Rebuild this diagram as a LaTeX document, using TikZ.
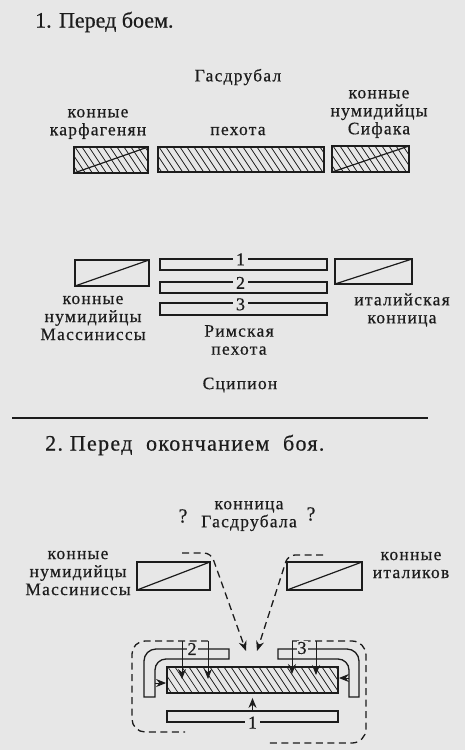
\documentclass[tikz,border=0pt]{standalone}
\usepackage{fontspec}
\setmainfont{Liberation Serif}
\newfontfamily\lblfont{Liberation Serif}[FakeBold=0.5,LetterSpace=7]
\newfontfamily\ttlfont{Liberation Serif}[FakeBold=0.5]
\newfontfamily\ttlwfont{Liberation Serif}[FakeBold=0.5,LetterSpace=6]
\usetikzlibrary{arrows.meta,calc}
\definecolor{bg}{RGB}{231,231,231}
\definecolor{ink}{RGB}{28,28,28}
\newcommand{\hatchlines}{\foreach \k in {0,...,30}{\draw[ink,line width=0.7pt] ($(path picture bounding box.north west)+(\k*7pt-20pt,0pt)$) -- ++(18pt,-27pt);}}
\newcommand{\diagline}{\draw[ink,line width=1.2pt] (path picture bounding box.south west) -- (path picture bounding box.north east);}
\begin{document}
\begin{tikzpicture}[x=1pt,y=-1pt,
  lbl/.style={font=\lblfont\fontsize{17.5}{18}\selectfont, align=center, inner sep=0pt, text=ink},
  ttl/.style={font=\ttlfont\fontsize{22}{24}\selectfont, anchor=west, inner sep=0pt, text=ink},
  num/.style={font=\ttlfont\fontsize{18}{18}\selectfont, inner xsep=3pt, inner ysep=0.5pt, fill=bg, text=ink},
  unit/.style={draw=ink, line width=1.3pt, inner sep=0pt, rectangle},
  infbox/.style={unit, line width=1.8pt, path picture={\hatchlines}},
  cavhatch/.style={unit, line width=1.8pt, path picture={\hatchlines\diagline}},
  cavbox/.style={unit, path picture={\diagline}},
  barbox/.style={unit},
  dsh/.style={draw=ink, line width=1.3pt, dash pattern=on 7pt off 4.5pt},
  arr/.style={draw=ink, line width=1pt, -{Stealth[length=10pt,width=8pt]}},
  lshape/.style={draw=ink, line width=1.3pt}
]
\fill[bg] (0,0) rectangle (465,750);
\useasboundingbox (0,0) rectangle (465,750);

% ---------- Section 1 ----------
\node[ttl] (t1) at (35,22) {1. Перед боем.};
\node[lbl] (gas) at (238,77) {Гасдрубал};
\node[lbl] (lcar) at (98,124) {конные\\карфагенян};
\node[lbl] (lped) at (238,131) {пехота};
\node[lbl] (lsif) at (379,114) {конные\\нумидийцы\\Сифака};

\node[cavhatch, minimum width=74pt, minimum height=26pt] (cC) at (111,160) {};
\node[infbox, minimum width=166pt, minimum height=25pt] (cI) at (241,159.5) {};
\node[cavhatch, minimum width=77pt, minimum height=26pt] (cS) at (370.5,159) {};

\node[cavbox, minimum width=74pt, minimum height=26pt] (rM) at (112,273) {};
\node[cavbox, minimum width=77pt, minimum height=25pt] (rI) at (373.5,271.5) {};
\node[barbox, minimum width=167pt, minimum height=11pt] (r1) at (243.5,264.5) {};
\node[barbox, minimum width=167pt, minimum height=11pt] (r2) at (243.5,287.5) {};
\node[barbox, minimum width=167pt, minimum height=12pt] (r3) at (243.5,309) {};
\node[num] (r1n) at ($(r1.north)+(-3,1)$) {1};
\node[num] (r2n) at ($(r2.north)+(-3,1.5)$) {2};
\node[num] (r3n) at ($(r3.north)+(-3,2)$) {3};

\node[lbl] (lmas) at (93,318) {конные\\нумидийцы\\Массиниссы};
\node[lbl] (lita) at (402,310) {италийская\\конница};
\node[lbl] (lrim) at (239,340) {Римская\\пехота};
\node[lbl] (lsci) at (240,385) {Сципион};

\coordinate (ruleL) at (12,418);
\coordinate (ruleR) at (428,418);
\draw[ink, line width=1.3pt] (ruleL) -- (ruleR);

% ---------- Section 2 ----------
\node[ttl, font=\ttlwfont\fontsize{22}{24}\selectfont] (t2) at (45,445) {2.\ Перед\ \ окончанием\ \ боя.};
\node[lbl] (lgas) at (249,516) {конница\\Гасдрубала};
\node[lbl, font=\ttlfont\fontsize{20}{20}\selectfont] (q1) at (183,516) {?};
\node[lbl, font=\ttlfont\fontsize{20}{20}\selectfont] (q2) at (311,514) {?};
\node[lbl] (lmas2) at (78,573) {конные\\нумидийцы\\Массиниссы};
\node[lbl] (lita2) at (411,565) {конные\\италиков};

\node[cavbox, minimum width=73pt, minimum height=28pt] (nM) at (173.5,576) {};
\node[cavbox, minimum width=75pt, minimum height=28pt] (nI) at (324.5,576) {};

\node[infbox, minimum width=171pt, minimum height=26pt] (hb) at (252.5,680) {};
\node[barbox, minimum width=171pt, minimum height=11pt] (b1) at (252.5,716.5) {};
\node[num] (b1n) at (b1.south) {1};
\draw[arr, shorten >=4pt] (b1.north) -- (hb.south);

% L-shaped lines 2 and 3
\draw[lshape] (144,697) -- (144,661) to[out=90,in=180] (156,649) -- (229,649) -- (229,659) -- (166,659) to[out=180,in=90] (155,670) -- (155,697) -- cycle;
\draw[lshape] (359,697) -- (359,661) to[out=90,in=0] (347,649) -- (278,649) -- (278,659) -- (338,659) to[out=0,in=90] (349,670) -- (349,697) -- cycle;

% dashed enclosures
\coordinate (eL0) at (208,641);
\coordinate (eL1) at (185,732);
\coordinate (eR0) at (292,641);
\coordinate (eR1) at (267,743);
\draw[dsh, rounded corners=13pt] (eL0) -- (132,641) -- (132,732) -- (eL1);
\draw[dsh, rounded corners=14pt] (eR0) -- (366,641) -- (366,743) -- (eR1);

% vertical arrows into the hatched box
\coordinate (v2a) at (182,641);
\coordinate (v2b) at (208,641);
\coordinate (v3a) at (292,641);
\coordinate (v3b) at (316,641);
\coordinate (v2ae) at (182,679);
\coordinate (v2be) at (208,679);
\coordinate (v3ae) at (292,674);
\coordinate (v3be) at (316,675);
\draw[arr] (v2a) -- (v2ae);
\draw[arr] (v2b) -- (v2be);
\draw[arr] (v3a) -- (v3ae);
\draw[arr] (v3b) -- (v3be);
\node[num, inner xsep=1pt] (n2) at (192,649) {2};
\node[num, inner xsep=1pt] (n3) at (302,648) {3};

% side arrows
\coordinate (sL) at (155,683);
\coordinate (sR) at (349,678);
\draw[arr] (sL) -- (sL -| hb.west);
\draw[arr] (sR) -- (sR -| hb.east);

% Hasdrubal's cavalry dashed arrows
\coordinate (gL0) at (182,553);
\coordinate (gL1) at (246,651);
\coordinate (gR0) at (323,555);
\coordinate (gR1) at (257,651);
\draw[dsh, rounded corners=7pt, -{Stealth[length=10pt,width=8pt]}] (gL0) -- (211,553) -- (gL1);
\draw[dsh, rounded corners=7pt, -{Stealth[length=10pt,width=8pt]}] (gR0) -- (288,555) -- (gR1);
\end{tikzpicture}
\end{document}
